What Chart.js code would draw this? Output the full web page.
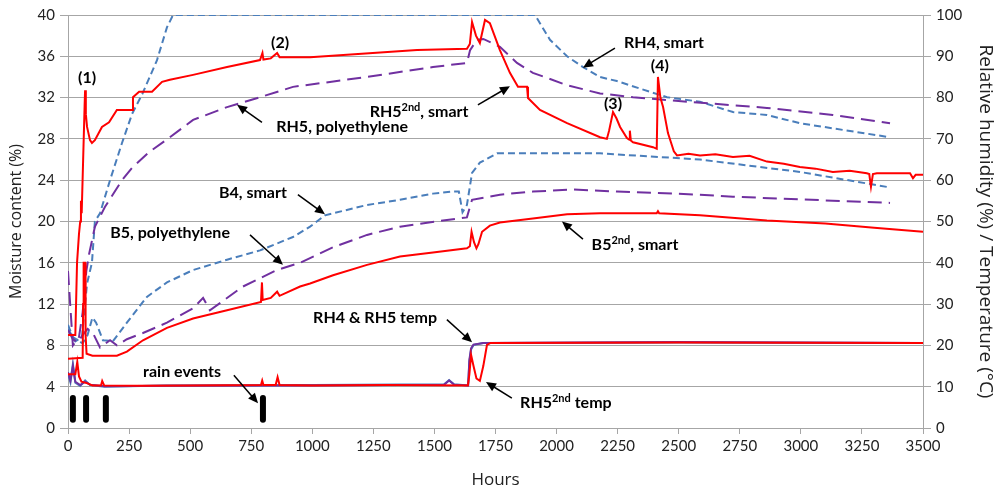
<!DOCTYPE html>
<html>
<head>
<meta charset="utf-8">
<script src="https://cdn.jsdelivr.net/npm/chart.js@4/dist/chart.umd.min.js"></script>
<style>
  html, body { margin: 0; padding: 0; background: #fff; }
  #wrap { width: 1000px; height: 493px; }
</style>
</head>
<body>
<div id="wrap"><canvas id="c" width="1000" height="493"></canvas></div>
<script>
// ---- Moisture content (left axis, %) ----
const b5SecondHours = [0, 60, 62, 64, 70, 72, 76, 100, 200, 241, 307, 405, 512, 651, 790, 794, 797, 830, 856, 866, 950, 991, 1085, 1224, 1359, 1494, 1633, 1645, 1652, 1662, 1672, 1680, 1695, 1727, 1768, 1903, 2043, 2178, 2410, 2415, 2420, 2587, 2861, 3100, 3300, 3500];
const b5SecondValues = [6.7, 6.8, 12, 16, 16, 9, 7.2, 7.0, 7.0, 7.4, 8.5, 9.7, 10.6, 11.4, 12.2, 14.1, 12.4, 12.6, 13.2, 12.8, 13.7, 14.0, 14.8, 15.8, 16.6, 17.0, 17.4, 17.6, 19.0, 18.0, 17.4, 17.8, 19.0, 19.6, 19.9, 20.3, 20.7, 20.8, 20.8, 21.0, 20.8, 20.6, 20.1, 19.8, 19.4, 19.0];

const b4Hours = [0, 20, 40, 60, 80, 100, 115, 143, 184, 241, 323, 405, 512, 651, 786, 921, 991, 1052, 1224, 1359, 1494, 1576, 1600, 1615, 1633, 1654, 1686, 1756, 1903, 2178, 2587, 2996, 3365];
const b4Values = [10.0, 8.8, 8.5, 8.2, 9.0, 10.7, 10.2, 8.5, 8.4, 10.2, 12.7, 14.1, 15.3, 16.3, 17.2, 18.5, 19.5, 20.6, 21.6, 22.1, 22.7, 22.9, 22.9, 20.9, 21.6, 24.7, 25.7, 26.6, 26.6, 26.6, 26.0, 24.8, 23.3];

const b5PolyHours = [0, 20, 40, 60, 80, 102, 131, 172, 200, 241, 307, 405, 512, 553, 581, 716, 855, 950, 1085, 1224, 1359, 1535, 1633, 1654, 1768, 1903, 2067, 2247, 2587, 2722, 3365];
const b5PolyValues = [9.5, 8.6, 8.3, 9.0, 9.6, 9.2, 7.8, 8.5, 8.0, 8.6, 9.2, 10.2, 11.6, 12.6, 11.4, 13.7, 15.3, 16.0, 17.5, 18.7, 19.5, 20.1, 20.4, 22.1, 22.6, 22.9, 23.1, 22.9, 22.6, 22.4, 21.8];

// ---- Relative humidity and temperature (right axis) ----
const rh5SecondHours = [0, 30, 33, 37, 45, 50, 53, 56, 62, 68, 70, 73, 78, 90, 98, 110, 139, 168, 200, 262, 266, 291, 344, 385, 417, 512, 651, 786, 796, 800, 830, 856, 866, 921, 991, 1429, 1633, 1645, 1654, 1670, 1686, 1707, 1727, 1768, 1809, 1842, 1879, 1883, 1932, 2043, 2178, 2206, 2215, 2231, 2245, 2260, 2288, 2298, 2300, 2304, 2313, 2395, 2410, 2415, 2425, 2436, 2456, 2480, 2493, 2540, 2587, 2650, 2722, 2790, 2861, 2930, 2996, 3060, 3131, 3200, 3270, 3280, 3287, 3295, 3311, 3447, 3459, 3470, 3500];
const rh5SecondValues = [22.5, 22.5, 30, 40, 47, 50, 55, 52, 65, 78, 81.8, 76, 72.9, 69.7, 69, 69.7, 72.9, 74, 77, 77, 80.1, 81.4, 81.4, 83.8, 84.3, 85.5, 87.4, 89.1, 90.8, 89.2, 89.5, 90.8, 89.8, 89.8, 89.8, 91.5, 91.8, 93, 98.3, 95, 93.2, 98.8, 98, 91.5, 86, 82.6, 82.6, 79.9, 77, 73.8, 70.4, 70, 72, 76.5, 75, 72.9, 70.2, 69.8, 72, 69.6, 69.2, 68, 67.6, 85, 80, 77.7, 71.4, 67, 66, 66.4, 66, 66.3, 65.6, 65.9, 64.5, 64.0, 63.2, 62.8, 62, 62.3, 61.7, 61.5, 58.4, 61.5, 61.7, 61.7, 60.5, 61.3, 61.3];

const rh4Hours = [0, 30, 57, 78, 98, 110, 131, 172, 221, 262, 305, 364, 405, 430, 1912, 1932, 1973, 2043, 2108, 2178, 2247, 2382, 2452, 2587, 2722, 2861, 2996, 3365];
const rh4Values = [24, 21, 22, 35, 40, 50, 52, 60, 69, 76, 81, 89, 97, 100, 100, 98, 94, 90, 87.4, 85, 84, 81.4, 80.1, 79, 76.5, 75.8, 73.8, 70.4];

const rh5PolyHours = [0, 20, 45, 60, 75, 86, 110, 151, 221, 262, 332, 413, 512, 651, 786, 921, 1224, 1494, 1633, 1646, 1674, 1700, 1768, 1838, 1903, 2043, 2178, 2313, 2452, 2861, 3131, 3365];
const rh5PolyValues = [38, 20, 22, 28, 38, 42, 48.7, 53.5, 60, 63, 66.8, 70.2, 74.6, 77.7, 80.1, 82.6, 85, 87.4, 88.4, 91.5, 94, 94.2, 92.3, 88.4, 86, 83, 81, 80.1, 79.4, 77.5, 75.8, 73.8];

const rh5SecondTempHours = [0, 30, 38, 45, 55, 80, 100, 135, 140, 148, 300, 500, 790, 795, 800, 850, 858, 866, 1000, 1300, 1637, 1643, 1650, 1660, 1672, 1686, 1700, 1715, 1730, 2500, 3500];
const rh5SecondTempValues = [13, 13, 16, 12.5, 11.2, 10.8, 10.3, 10.3, 11.4, 10.3, 10.2, 10.3, 10.4, 11.5, 10.4, 10.4, 12.3, 10.4, 10.3, 10.4, 10.3, 13, 17.7, 15, 12, 11.4, 15, 20.1, 20.6, 20.7, 20.6];

const rh4TempHours = [0, 10, 20, 30, 50, 70, 90, 150, 400, 1000, 1540, 1560, 1580, 1638, 1643, 1650, 1660, 1700, 2500, 3500];
const rh4TempValues = [13, 11, 15.5, 11, 10.2, 11.5, 10.4, 10.0, 10.3, 10.4, 10.6, 11.6, 10.6, 10.3, 16, 19, 20.1, 20.6, 20.7, 20.6];
const rh5TempValues = [13.5, 11.5, 15, 11.2, 10.4, 11.2, 10.5, 10.1, 10.2, 10.3, 10.5, 11.5, 10.5, 10.3, 16.5, 19.3, 20.2, 20.6, 20.8, 20.6];

// ---- Rain events (hours), bar span on the left axis ----
const rainHours = [20, 74, 155, 798];
const rainSpan = [0.8, 2.9];

// ---- Axis ticks ----
const hourTicks = { min: 0, max: 3500, step: 250 };
const moistureTicks = { min: 0, max: 40, step: 4 };
const humidityTicks = { min: 0, max: 100, step: 10 };

const pairs = (xs, ys) => xs.map((x, i) => ({ x: x, y: ys[i] }));
const rainPoints = [];
rainHours.forEach(h => {
  rainPoints.push({ x: h, y: rainSpan[0] }, { x: h, y: rainSpan[1] }, { x: h, y: null });
});

const RED = '#ff0000', BLUE = '#4a7ebb', PURPLE = '#7030a0';

function lineSet(label, data, color, axis, dash, width) {
  return {
    label: label, data: data, yAxisID: axis,
    borderColor: color, backgroundColor: color,
    borderWidth: width || 2, borderDash: dash || [],
    pointRadius: 0, tension: 0, fill: false, spanGaps: false
  };
}

const datasets = [
  lineSet('RH5 2nd temp', pairs(rh5SecondTempHours, rh5SecondTempValues), RED, 'y2'),
  lineSet('RH5 2nd, smart', pairs(rh5SecondHours, rh5SecondValues), RED, 'y2'),
  lineSet('B5 2nd, smart', pairs(b5SecondHours, b5SecondValues), RED, 'y'),
  lineSet('RH5 temp', pairs(rh4TempHours, rh5TempValues), PURPLE, 'y2'),
  lineSet('RH4 temp', pairs(rh4TempHours, rh4TempValues), BLUE, 'y2'),
  lineSet('RH5, polyethylene', pairs(rh5PolyHours, rh5PolyValues), PURPLE, 'y2', [14, 7]),
  lineSet('B5, polyethylene', pairs(b5PolyHours, b5PolyValues), PURPLE, 'y', [14, 7]),
  lineSet('RH4, smart', pairs(rh4Hours, rh4Values), BLUE, 'y2', [7, 4]),
  lineSet('B4, smart', pairs(b4Hours, b4Values), BLUE, 'y', [7, 4]),
  Object.assign(lineSet('rain events', rainPoints, '#000', 'y', [], 6), { borderCapStyle: 'round' })
];

// Callout text with arrows, placed in data units (hours, moisture %)
const callouts = [
  { parts: [['(1)']], at: [78, 33.9] },
  { parts: [['(2)']], at: [868, 37.3] },
  { parts: [['(3)']], at: [2231, 31.4] },
  { parts: [['(4)']], at: [2423, 35.1] },
  { parts: [['RH4, smart']], at: [2440, 37.3], arrow: [[2239, 36.8], [2108, 34.9]] },
  { parts: [['RH5'], ['2nd', 1], [', smart']], at: [1437, 30.6], arrow: [[1678, 31.3], [1809, 33.1]] },
  { parts: [['RH5, polyethylene']], at: [1122, 29.2], arrow: [[794, 29.6], [692, 31.3]] },
  { parts: [['B4, smart']], at: [757, 22.8], arrow: [[941, 22.6], [1052, 20.7]] },
  { parts: [['B5, polyethylene']], at: [418, 18.9], arrow: [[745, 18.7], [880, 15.8]] },
  { parts: [['B5'], ['2nd', 1], [', smart']], at: [2321, 17.7], arrow: [[2108, 18.3], [2022, 20.0]] },
  { parts: [['RH4 & RH5 temp']], at: [1257, 10.65], arrow: [[1551, 10.5], [1654, 8.3]] },
  { parts: [['RH5'], ['2nd', 1], [' temp']], at: [2038, 2.4], arrow: [[1817, 2.9], [1711, 4.45]] },
  { parts: [['rain events']], at: [467, 5.4], arrow: [[679, 5.1], [778, 2.4]] }
];

const LABEL_FONT = 'bold 16px Lato, "Open Sans", sans-serif';
const SUP_FONT = 'bold 11px Lato, "Open Sans", sans-serif';

const calloutPlugin = {
  id: 'callouts',
  afterDatasetsDraw(chart) {
    const ctx = chart.ctx, xs = chart.scales.x, ys = chart.scales.y;
    ctx.save();
    callouts.forEach(c => {
      if (c.arrow) {
        const x1 = xs.getPixelForValue(c.arrow[0][0]), y1 = ys.getPixelForValue(c.arrow[0][1]);
        const x2 = xs.getPixelForValue(c.arrow[1][0]), y2 = ys.getPixelForValue(c.arrow[1][1]);
        const ang = Math.atan2(y2 - y1, x2 - x1);
        const hl = 10, hw = 4.5;
        ctx.strokeStyle = '#000'; ctx.fillStyle = '#000'; ctx.lineWidth = 1.5;
        ctx.beginPath();
        ctx.moveTo(x1, y1);
        ctx.lineTo(x2 - Math.cos(ang) * hl * 0.8, y2 - Math.sin(ang) * hl * 0.8);
        ctx.stroke();
        ctx.beginPath();
        ctx.moveTo(x2, y2);
        ctx.lineTo(x2 - Math.cos(ang) * hl - Math.sin(ang) * hw, y2 - Math.sin(ang) * hl + Math.cos(ang) * hw);
        ctx.lineTo(x2 - Math.cos(ang) * hl + Math.sin(ang) * hw, y2 - Math.sin(ang) * hl - Math.cos(ang) * hw);
        ctx.closePath();
        ctx.fill();
      }
      const cx = xs.getPixelForValue(c.at[0]), cy = ys.getPixelForValue(c.at[1]);
      let total = 0;
      const widths = c.parts.map(p => { ctx.font = p[1] ? SUP_FONT : LABEL_FONT; const w = ctx.measureText(p[0]).width; total += w; return w; });
      let x = cx - total / 2;
      ctx.fillStyle = '#000';
      ctx.textBaseline = 'middle';
      ctx.textAlign = 'left';
      c.parts.forEach((p, i) => {
        ctx.font = p[1] ? SUP_FONT : LABEL_FONT;
        ctx.fillText(p[0], x, p[1] ? cy - 5 : cy);
        x += widths[i];
      });
    });
    ctx.restore();
  }
};

const GRID = '#a6a6a6';
const TICK_FONT = { family: 'Lato, "Open Sans", sans-serif', size: 15 };
const plain = v => String(v);

new Chart(document.getElementById('c'), {
  type: 'line',
  data: { datasets: datasets },
  plugins: [calloutPlugin],
  options: {
    responsive: false,
    animation: false,
    devicePixelRatio: 1,
    layout: { padding: { top: 15, right: 0, bottom: 0, left: 0 } },
    plugins: { legend: { display: false }, tooltip: { enabled: false } },
    scales: {
      x: {
        type: 'linear', min: hourTicks.min, max: hourTicks.max,
        ticks: { stepSize: hourTicks.step, color: '#222', font: TICK_FONT, padding: 3, maxRotation: 0, callback: plain },
        grid: { drawOnChartArea: false, color: GRID, tickLength: 6 },
        border: { color: GRID },
        title: { display: true, text: 'Hours', color: '#222', font: { family: '"Open Sans", sans-serif', size: 17 }, padding: { top: 0, bottom: 3 } },
        afterFit: s => { s.height = 65; }
      },
      y: {
        position: 'left', min: moistureTicks.min, max: moistureTicks.max,
        ticks: { stepSize: moistureTicks.step, color: '#222', font: TICK_FONT, padding: 5, callback: plain },
        grid: { color: GRID, tickLength: 8 },
        border: { color: GRID },
        title: { display: true, text: 'Moisture content (%)', color: '#222', font: { family: '"Open Sans", sans-serif', size: 16 }, padding: { top: 7, bottom: 0 } },
        afterFit: s => { s.width = 68; }
      },
      y2: {
        position: 'right', min: humidityTicks.min, max: humidityTicks.max,
        ticks: { stepSize: humidityTicks.step, color: '#222', font: TICK_FONT, padding: 5, callback: plain },
        grid: { drawOnChartArea: false, color: GRID, tickLength: 8 },
        border: { color: GRID },
        title: { display: true, text: 'Relative humidity (%) / Temperature (°C)', color: '#222', font: { family: '"Open Sans", sans-serif', size: 19 }, padding: { top: 3, bottom: 0 } },
        afterFit: s => { s.width = 77; }
      }
    }
  }
});
</script>
</body>
</html>
